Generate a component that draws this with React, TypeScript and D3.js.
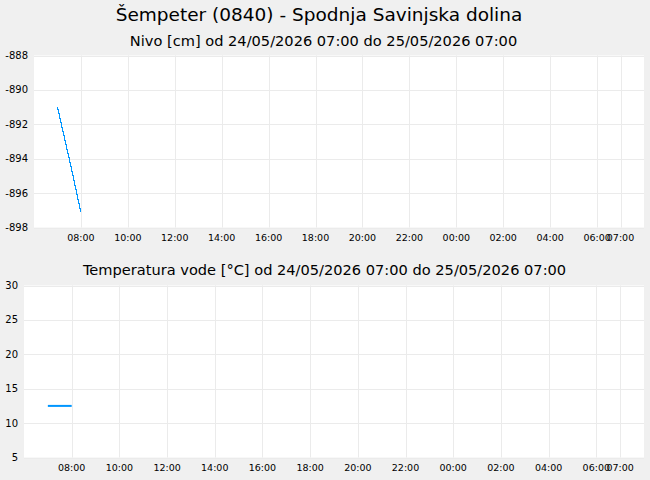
import React from "react";
import * as d3 from "d3";

const titleText = "Šempeter (0840) - Spodnja Savinjska dolina";
const levelTitle = "Nivo [cm] od 24/05/2026 07:00 do 25/05/2026 07:00";
const tempTitle = "Temperatura vode [°C] od 24/05/2026 07:00 do 25/05/2026 07:00";

// level readings (time, cm)
const levelTimes = ["2026-05-24T07:00", "2026-05-24T07:10", "2026-05-24T07:20", "2026-05-24T07:30", "2026-05-24T07:40", "2026-05-24T07:50", "2026-05-24T08:00"];
const levelValues = [-891.0, -892.0, -893.0, -894.0, -895.0, -896.1, -897.1];

// water temperature readings (time, °C)
const tempTimes = ["2026-05-24T07:00", "2026-05-24T07:30", "2026-05-24T08:00"];
const tempValues = [12.5, 12.5, 12.5];

const levelTicks = [-888, -890, -892, -894, -896, -898];
const tempTicks = [5, 10, 15, 20, 25, 30];
const xTickTimes = [
  "2026-05-24T08:00", "2026-05-24T10:00", "2026-05-24T12:00", "2026-05-24T14:00",
  "2026-05-24T16:00", "2026-05-24T18:00", "2026-05-24T20:00", "2026-05-24T22:00",
  "2026-05-25T00:00", "2026-05-25T02:00", "2026-05-25T04:00", "2026-05-25T06:00",
  "2026-05-25T07:00",
];
const xDomain = ["2026-05-24T06:00", "2026-05-25T08:00"];

const parse = (s: string) => new Date(s);
const fmt = d3.timeFormat("%H:%M");
const FONT = "DejaVu Sans, sans-serif";
const LINE = "#0096ff";
const GRID = "#ebebeb";

type PanelProps = {
  left: number; right: number; top: number; bottom: number;
  yDomain: [number, number]; yTicks: number[];
  times: string[]; values: number[]; strokeWidth: number; crisp: boolean;
};

function Panel({ left, right, top, bottom, yDomain, yTicks, times, values, strokeWidth, crisp }: PanelProps) {
  const x = d3.scaleTime().domain(xDomain.map(parse)).range([left, right]);
  const y = d3.scaleLinear().domain(yDomain).range([bottom, top]);
  const line = d3.line<number>()
    .x((_, i) => x(parse(times[i])))
    .y((v) => y(v));
  return (
    <g>
      <rect x={left} y={top} width={right - left} height={bottom - top} fill="#ffffff" />
      {yTicks.map((t) => (
        <g key={"y" + t}>
          <line x1={left} x2={right} y1={Math.round(y(t)) + 0.5} y2={Math.round(y(t)) + 0.5} stroke={GRID} strokeWidth={1} />
          <text x={left - 6} y={y(t)} dy="0.35em" textAnchor="end" fontSize={10} fontFamily={FONT} fill="#000">{t}</text>
        </g>
      ))}
      {xTickTimes.map((s) => {
        const px = Math.round(x(parse(s))) + 0.5;
        return (
          <g key={"x" + s}>
            <line x1={px} x2={px} y1={top} y2={bottom} stroke={GRID} strokeWidth={1} />
            <text x={x(parse(s))} y={bottom + 10} dy="0.35em" textAnchor="middle" fontSize={9.5} fontFamily={FONT} fill="#000">{fmt(parse(s))}</text>
          </g>
        );
      })}
      <path d={line(values) || ""} fill="none" stroke={LINE} strokeWidth={strokeWidth} shapeRendering={crisp ? "crispEdges" : "auto"} />
    </g>
  );
}

export default function App() {
  return (
    <svg width={650} height={480} style={{ position: "absolute", left: 0, top: 0, display: "block" }}>
      <rect x={0} y={0} width={650} height={480} fill="#f0f0f0" />
      <text x={319} y={21} textAnchor="middle" fontSize={18.5} fontFamily={FONT} fill="#000">{titleText}</text>
      <text x={323.5} y={45.5} textAnchor="middle" fontSize={14.6} fontFamily={FONT} fill="#000">{levelTitle}</text>
      <Panel left={34} right={644} top={55.5} bottom={227.5} yDomain={[-898, -888]} yTicks={levelTicks}
        times={levelTimes} values={levelValues} strokeWidth={1.2} crisp={true} />
      <text x={324.5} y={275} textAnchor="middle" fontSize={14.6} fontFamily={FONT} fill="#000">{tempTitle}</text>
      <Panel left={24} right={644} top={285.5} bottom={457.5} yDomain={[5, 30]} yTicks={tempTicks}
        times={tempTimes} values={tempValues} strokeWidth={2} crisp={false} />
    </svg>
  );
}
